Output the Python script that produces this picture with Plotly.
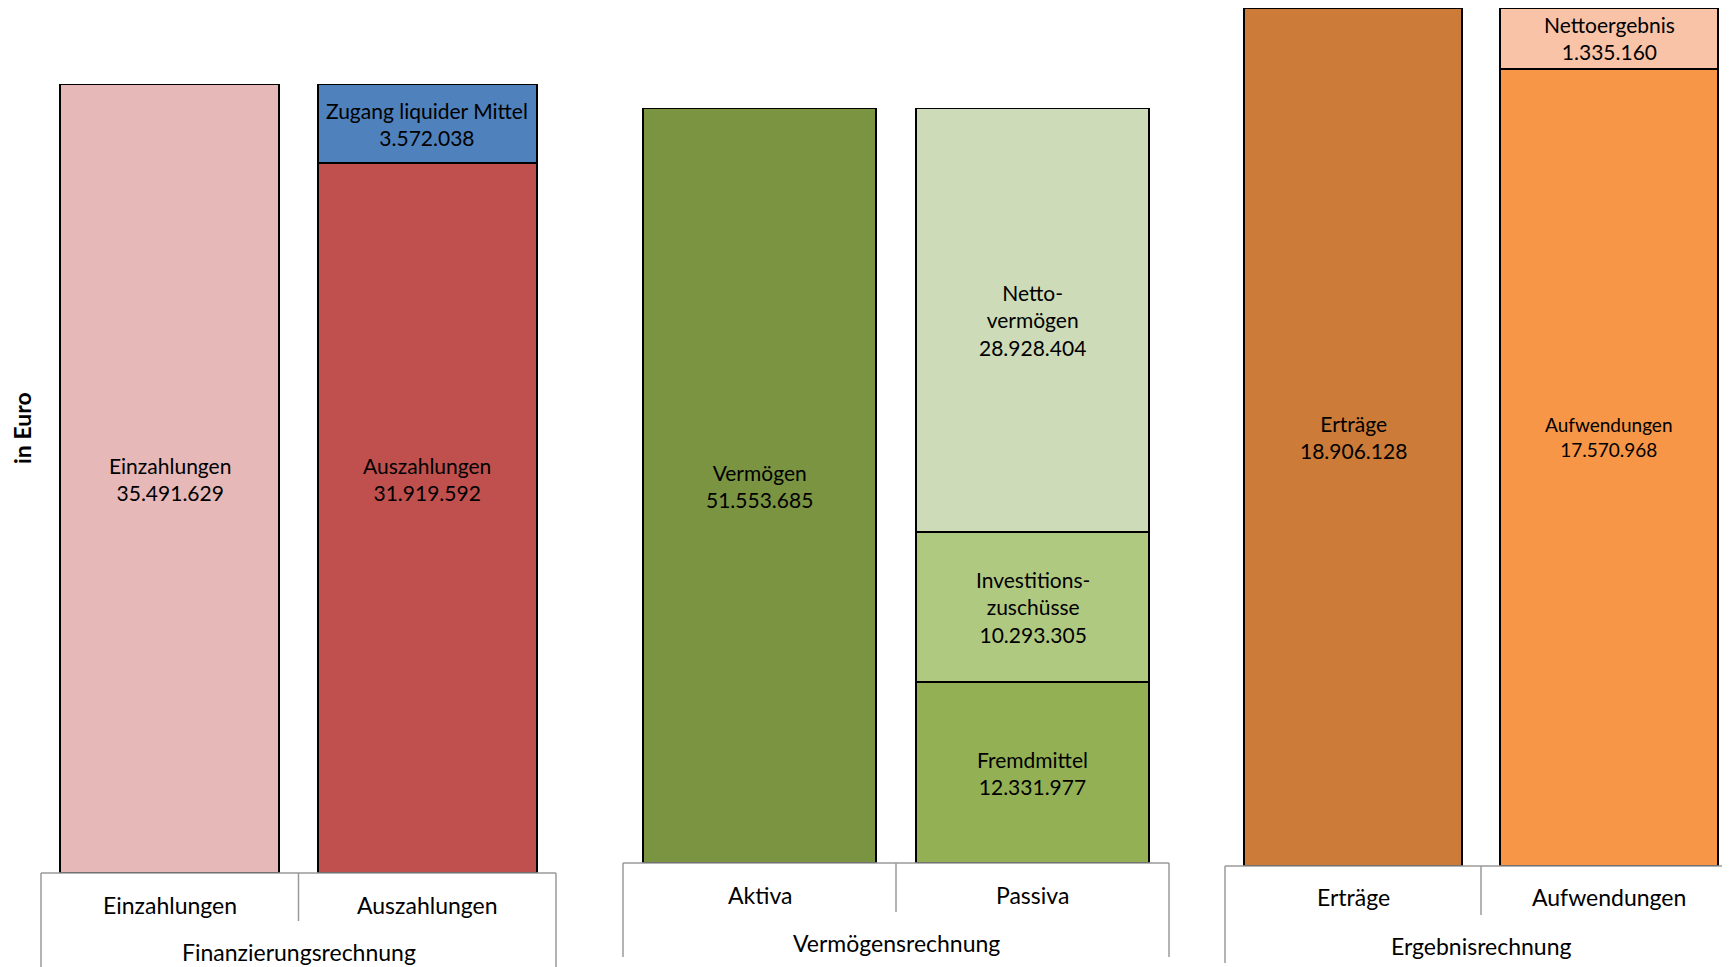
import plotly.graph_objects as go

# ---------------- data ----------------
fin_categories = ["Einzahlungen", "Auszahlungen"]
fin_group = "Finanzierungsrechnung"
fin_seg_names = ["Einzahlungen", "Auszahlungen", "Zugang liquider Mittel"]
fin_seg_cats = ["Einzahlungen", "Auszahlungen", "Auszahlungen"]
fin_seg_values = [35491629, 31919592, 3572038]

verm_categories = ["Aktiva", "Passiva"]
verm_group = "Vermögensrechnung"
verm_seg_names = ["Vermögen", "Fremdmittel", "Investitions-<br>zuschüsse", "Netto-<br>vermögen"]
verm_seg_cats = ["Aktiva", "Passiva", "Passiva", "Passiva"]
verm_seg_values = [51553685, 12331977, 10293305, 28928404]

erg_categories = ["Erträge", "Aufwendungen"]
erg_group = "Ergebnisrechnung"
erg_seg_names = ["Erträge", "Aufwendungen", "Nettoergebnis"]
erg_seg_cats = ["Erträge", "Aufwendungen", "Aufwendungen"]
erg_seg_values = [18906128, 17570968, 1335160]

y_title = "in Euro"

# ---------------- styles ----------------
fin_colors = ["#E6B8B7", "#C0504D", "#4F81BD"]
verm_colors = ["#7A9442", "#93B055", "#B0C981", "#CEDBB8"]
erg_colors = ["#CC7B38", "#F79646", "#F9C3A8"]
# segments whose label is placed at the middle of the whole stack (as in the original)
label_at_stack_mid = {"Auszahlungen", "Aufwendungen"}
small_label = {"Aufwendungen"}

FONT = "Lato"
W, H = 1730, 959
OFF = 8  # default page margin of the html body

def fmt(v):
    return f"{v:,}".replace(",", ".")

# panel layout in page pixels
panels = [
    dict(cats=fin_categories, group=fin_group, names=fin_seg_names, scats=fin_seg_cats,
         vals=fin_seg_values, colors=fin_colors, px=(41, 556), py=(873, 84),
         ycat=905, ygrp=952, ybot=975, ydiv=921),
    dict(cats=verm_categories, group=verm_group, names=verm_seg_names, scats=verm_seg_cats,
         vals=verm_seg_values, colors=verm_colors, px=(623, 1169), py=(863, 108),
         ycat=895, ygrp=943, ybot=957, ydiv=912),
    dict(cats=erg_categories, group=erg_group, names=erg_seg_names, scats=erg_seg_cats,
         vals=erg_seg_values, colors=erg_colors, px=(1225, 1737), py=(866, 8),
         ycat=897, ygrp=946, ybot=963, ydiv=915),
]

def fx(px):
    return (px - OFF) / W

def fy(py):
    return 1 - (py - OFF) / H

fig = go.Figure()
annotations = []
shapes = []
layout_axes = {}

for i, p in enumerate(panels, start=1):
    xa = "x" if i == 1 else f"x{i}"
    ya = "y" if i == 1 else f"y{i}"
    xkey = "xaxis" if i == 1 else f"xaxis{i}"
    ykey = "yaxis" if i == 1 else f"yaxis{i}"

    totals = {c: 0 for c in p["cats"]}
    for c, v in zip(p["scats"], p["vals"]):
        totals[c] += v
    ymax = max(totals.values())

    base = {c: 0 for c in p["cats"]}
    for name, c, v, col in zip(p["names"], p["scats"], p["vals"], p["colors"]):
        fig.add_trace(go.Bar(
            x=[c], y=[v], xaxis=xa, yaxis=ya, name=name.replace("<br>", ""),
            marker=dict(color=col, line=dict(color="#000000", width=2)),
            showlegend=False, hoverinfo="skip",
        ))
        ymid = totals[c] / 2 if name in label_at_stack_mid else base[c] + v / 2
        annotations.append(dict(
            x=c, y=ymid, xref=xa, yref=ya, text=f"{name}<br>{fmt(v)}",
            showarrow=False, font=dict(family=FONT, size=19 if name in small_label else 21, color="#000"),
            align="center", xanchor="center", yanchor="middle",
        ))
        base[c] += v

    x0, x1 = fx(p["px"][0]), min(1.0, fx(p["px"][1]))
    yb, yt = fy(p["py"][0]), fy(p["py"][1])
    layout_axes[xkey] = dict(domain=[x0, x1], anchor=ya, type="category",
                             categoryorder="array", categoryarray=p["cats"],
                             range=[-0.5, 1.5], showticklabels=False, showgrid=False,
                             zeroline=False, showline=False, ticks="")
    layout_axes[ykey] = dict(domain=[yb, yt], anchor=xa, range=[0, ymax],
                             showticklabels=False, showgrid=False, zeroline=False,
                             showline=False, ticks="")

    # category labels
    for c in p["cats"]:
        annotations.append(dict(x=c, y=fy(p["ycat"]), xref=xa, yref="paper", text=c,
                                showarrow=False, font=dict(family=FONT, size=23, color="#000"),
                                xanchor="center", yanchor="middle"))
    annotations.append(dict(x=0.5, y=fy(p["ygrp"]), xref=f"{xa} domain", yref="paper",
                            text=p["group"], showarrow=False,
                            font=dict(family=FONT, size=23, color="#000"),
                            xanchor="center", yanchor="middle"))

    # category-axis box lines
    lc = dict(color="#9A9A9A", width=1.5)
    shapes.append(dict(type="line", xref=f"{xa} domain", yref="paper", x0=0, x1=1,
                       y0=yb, y1=yb, line=lc))
    shapes.append(dict(type="line", xref=f"{xa} domain", yref="paper", x0=0, x1=0,
                       y0=yb, y1=fy(p["ybot"]), line=lc))
    shapes.append(dict(type="line", xref=f"{xa} domain", yref="paper", x0=1, x1=1,
                       y0=yb, y1=fy(p["ybot"]), line=lc))
    shapes.append(dict(type="line", xref=f"{xa} domain", yref="paper", x0=0.5, x1=0.5,
                       y0=yb, y1=fy(p["ydiv"]), line=lc))

annotations.append(dict(x=fx(22), y=fy(428), xref="paper", yref="paper",
                        text=f"<b>{y_title}</b>", textangle=-90, showarrow=False,
                        font=dict(family=FONT, size=23, color="#000"),
                        xanchor="center", yanchor="middle"))

fig.update_layout(
    width=W, height=H, margin=dict(l=0, r=0, t=0, b=0),
    paper_bgcolor="white", plot_bgcolor="rgba(0,0,0,0)",
    barmode="stack", bargap=0.15,
    annotations=annotations, shapes=shapes, **layout_axes,
)

fig.write_html("out.html")
